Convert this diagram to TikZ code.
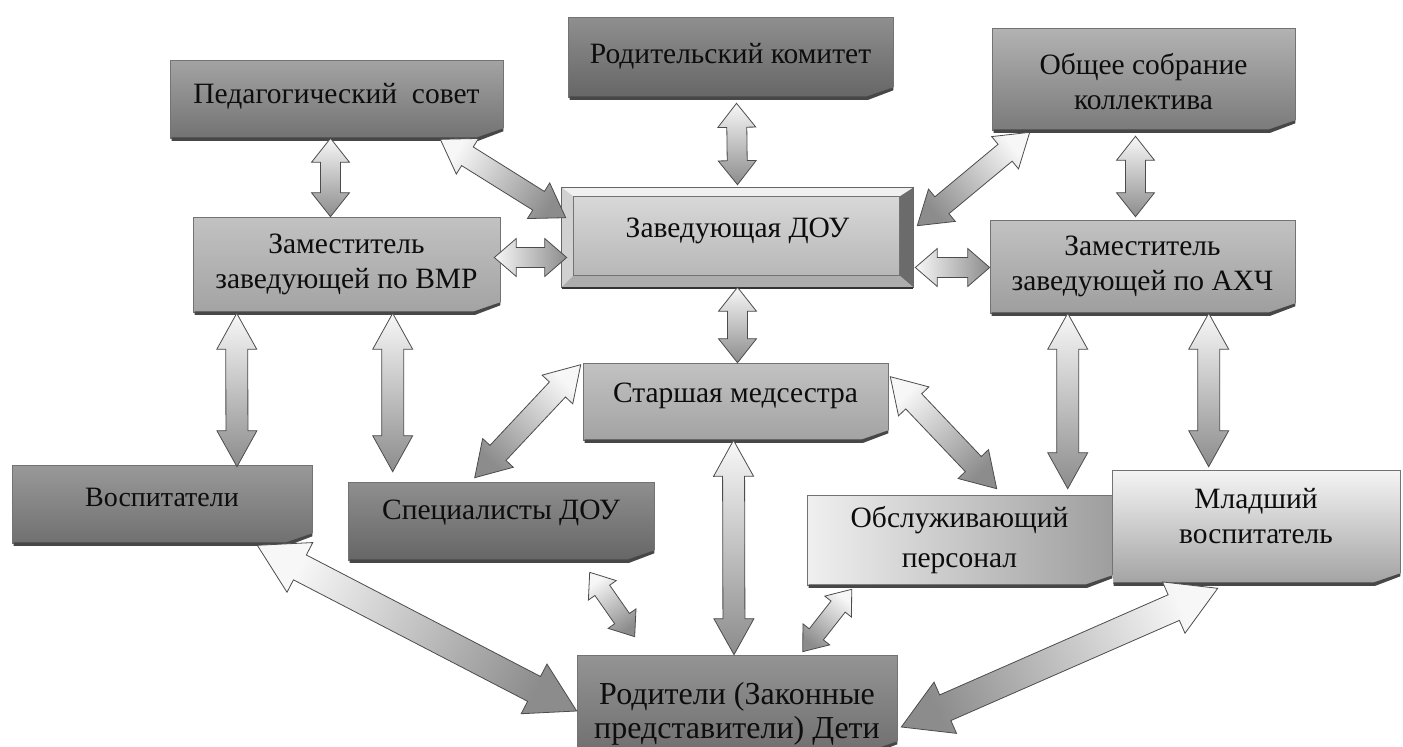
\documentclass[tikz,border=0pt]{standalone}
\usepackage{fontspec}
\setmainfont{Liberation Serif}
\usetikzlibrary{calc}

\tikzset{
  box/.style={draw=black!55, line width=0.6pt, inner sep=2pt, align=center,
    font=\fontsize{29.5}{35}\selectfont, text=black!95},
  dbarrowsty/.style={draw=black!70, line width=0.8pt, shading=axis,
    bottom color=black!3, top color=black!45},
  curlsty/.style={fill=black!72},
}

\newcommand\dbpt[3]{\coordinate (#1) at ({(\gX+(#2)*\dbC-(#3)*\dbS)*1pt},{(\gY+(#2)*\dbS+(#3)*\dbC)*1pt});}

\newcommand\dbarrow[6][]{%
  \path let \p1=(#2), \p2=(#3) in \pgfextra{%
    \pgfmathsetmacro\dbtmpA{atan2(\y2-\y1,\x2-\x1)}%
    \pgfmathsetmacro\dbtmpL{veclen(\x2-\x1,\y2-\y1)}%
    \pgfmathsetmacro\dbtmpX{\x1}%
    \pgfmathsetmacro\dbtmpY{\y1}%
    \xdef\gA{\dbtmpA}\xdef\gL{\dbtmpL}\xdef\gX{\dbtmpX}\xdef\gY{\dbtmpY}};
  \pgfmathsetmacro\dbC{cos(\gA)}%
  \pgfmathsetmacro\dbS{sin(\gA)}%
  \pgfmathsetmacro\dbSh{\gA-90}%
  \pgfmathsetmacro\dbM{\gL-#6}%
  \dbpt{dq0}{0}{0}\dbpt{dq1}{#6}{#5}\dbpt{dq2}{#6}{#4}\dbpt{dq3}{\dbM}{#4}\dbpt{dq4}{\dbM}{#5}%
  \dbpt{dq5}{\gL}{0}\dbpt{dq6}{\dbM}{-#5}\dbpt{dq7}{\dbM}{-#4}\dbpt{dq8}{#6}{-#4}\dbpt{dq9}{#6}{-#5}%
  \path[dbarrowsty,#1,shading angle=\dbSh] (dq0)--(dq1)--(dq2)--(dq3)--(dq4)--(dq5)--(dq6)--(dq7)--(dq8)--(dq9)--cycle;
}

\newcommand\curl[1]{%
  \fill[white] ($(#1.south east)+(-26,0.5)$) -- ($(#1.south east)+(0.5,-10)$) -- ($(#1.south east)+(1,1)$) -- cycle;
  \fill[curlsty] ($(#1.south west)+(2,-1)$) -- ($(#1.south east)+(-26,-1)$) -- ($(#1.south east)+(0,-10)$)
     -- ($(#1.south east)+(0,-7)$) -- ($(#1.south east)+(-25,2.5)$) -- ($(#1.south west)+(2,2.5)$) -- cycle;
}

\begin{document}
\begin{tikzpicture}[x=1pt,y=-1pt]
\useasboundingbox[fill=white] (0,0) rectangle (1403,747);

% boxes
\node[box, minimum width=333pt, minimum height=78pt, top color=black!36, bottom color=black!55] (ped) at (336.5,99) {Педагогический~~совет\\[-23pt]\mbox{}};
\node[box, minimum width=325pt, minimum height=80pt, top color=black!44, bottom color=black!60] (rodk) at (730.5,57) {Родительский комитет\\[-27pt]\mbox{}};
\node[box, minimum width=303pt, minimum height=102pt, top color=black!30, bottom color=black!52] (obsh) at (1143.5,79) {\mbox{}\\[-8pt]Общее собрание\\коллектива};
\node[box, minimum width=351pt, minimum height=99pt, top color=black!14, bottom color=black!30] (zav) at (737.5,237.5) {};
\node[box, minimum width=307pt, minimum height=95pt, top color=black!24, bottom color=black!36] (vmr) at (346.5,264.5) {Заместитель\\заведующей по ВМР};
\node[box, minimum width=305pt, minimum height=93pt, top color=black!24, bottom color=black!38] (axch) at (1142.5,266.5) {Заместитель\\заведующей по АХЧ};
\node[box, minimum width=305pt, minimum height=77pt, top color=black!24, bottom color=black!36] (star) at (735.5,401.5) {Старшая медсестра\\[-17pt]\mbox{}};
\node[box, minimum width=300pt, minimum height=78pt, top color=black!40, bottom color=black!56, font=\fontsize{28}{35}\selectfont] (vosp) at (162,504) {Воспитатели\\[-21pt]\mbox{}};
\node[box, minimum width=306pt, minimum height=78pt, top color=black!44, bottom color=black!60] (spec) at (501,521) {Специалисты ДОУ\\[-13pt]\mbox{}};
\node[box, minimum width=305pt, minimum height=90pt, left color=black!6, right color=black!38] (obsl) at (959.5,540) {Обслуживающий\\[5pt]персонал};
\node[box, minimum width=288pt, minimum height=113pt, top color=black!4, bottom color=black!36] (mlad) at (1256,526.5) {Младший\\воспитатель\\[-13pt]\mbox{}};
\node[box, minimum width=320pt, minimum height=96pt, top color=black!42, bottom color=black!56, font=\fontsize{32}{34}\selectfont] (rod) at (737,703) {\mbox{}\\[9pt]Родители (Законные\\представители) Дети};

% bevel of the central box
\fill[black!6] (zav.north west) -- (zav.north east) -- ($(zav.north east)+(-14,9)$) -- ($(zav.north west)+(12,9)$) -- cycle;
\fill[black!18] (zav.north west) -- ($(zav.north west)+(12,9)$) -- ($(zav.south west)+(12,-12)$) -- (zav.south west) -- cycle;
\fill[black!58] (zav.north east) -- (zav.south east) -- ($(zav.south east)+(-14,-12)$) -- ($(zav.north east)+(-14,9)$) -- cycle;
\fill[black!32] (zav.south west) -- (zav.south east) -- ($(zav.south east)+(-14,-12)$) -- ($(zav.south west)+(12,-12)$) -- cycle;
\draw[black!60, line width=0.6pt] (zav.north west) rectangle (zav.south east);
\draw[black!55, line width=0.5pt] ($(zav.north west)+(12,9)$) rectangle ($(zav.south east)+(-14,-12)$);
\draw[black!80, line width=2pt] ($(zav.south west)+(0,1)$) -- ($(zav.south east)+(0,1)$);
\node[font=\fontsize{29.5}{35}\selectfont, text=black!95] (zavtext) at ($(zav.center)+(0,-7)$) {Заведующая ДОУ};

% curled corners
\curl{ped}\curl{rodk}\curl{obsh}\curl{vmr}\curl{axch}\curl{star}
\curl{vosp}\curl{spec}\curl{obsl}\curl{mlad}\curl{rod}

% connectors
\dbarrow{$(ped.south)+(-6,0)$}{$(vmr.north)+(-16,0)$}{10}{19}{24}
\dbarrow{$(ped.south east)+(-63,1)$}{$(zav.north west)+(4,30)$}{11}{21}{32}
\dbarrow{$(rodk.south)+(6,6)$}{$(zav.north)+(0,-3)$}{10}{19}{24}
\dbarrow{$(obsh.south west)+(38,2)$}{$(zav.north east)+(4,38)$}{11}{21}{32}
\dbarrow{$(obsh.south)+(-8,6)$}{$(axch.north)+(-7,-3)$}{10}{19}{24}
\dbarrow{$(vmr.east)+(-6,-7)$}{$(zav.west)+(5,20)$}{10}{19}{22}
\dbarrow{$(zav.east)+(2,30)$}{$(axch.west)+(0,1)$}{10}{19}{22}
\dbarrow{$(zav.south)+(0,0)$}{$(star.north)+(2,0)$}{10}{19}{24}
\dbarrow{$(vmr.south west)+(44,1)$}{$(vosp.north)+(75,2)$}{11}{20}{36}
\dbarrow{$(vmr.south west)+(200,1)$}{$(spec.north west)+(45,-10)$}{11}{20}{36}
\dbarrow{$(star.north west)+(-2,2)$}{$(spec.north west)+(127,-4)$}{11}{21}{34}
\dbarrow{$(star.north east)+(2,14)$}{$(obsl.north west)+(190,-6)$}{11}{21}{34}
\dbarrow{$(axch.south west)+(78,0)$}{$(obsl.north west)+(261,-6)$}{11}{20}{36}
\dbarrow{$(axch.south west)+(219,0)$}{$(mlad.north west)+(97,-3)$}{11}{20}{36}
\dbarrow{$(star.south)+(-2,0)$}{$(rod.north)+(-3,0)$}{11}{20}{36}
\dbarrow{$(spec.south west)+(242,12)$}{$(rod.north west)+(58,-18)$}{9}{17}{22}
\dbarrow{$(vosp.south east)+(-55,2)$}{$(rod.west)+(0,8)$}{14}{28}{48}
\dbarrow{$(obsl.south west)+(45,4)$}{$(rod.north west)+(226,-3)$}{9}{17}{22}
\dbarrow{$(mlad.south west)+(106,5)$}{$(rod.east)+(4,24)$}{14}{28}{48}
\end{tikzpicture}
\end{document}
